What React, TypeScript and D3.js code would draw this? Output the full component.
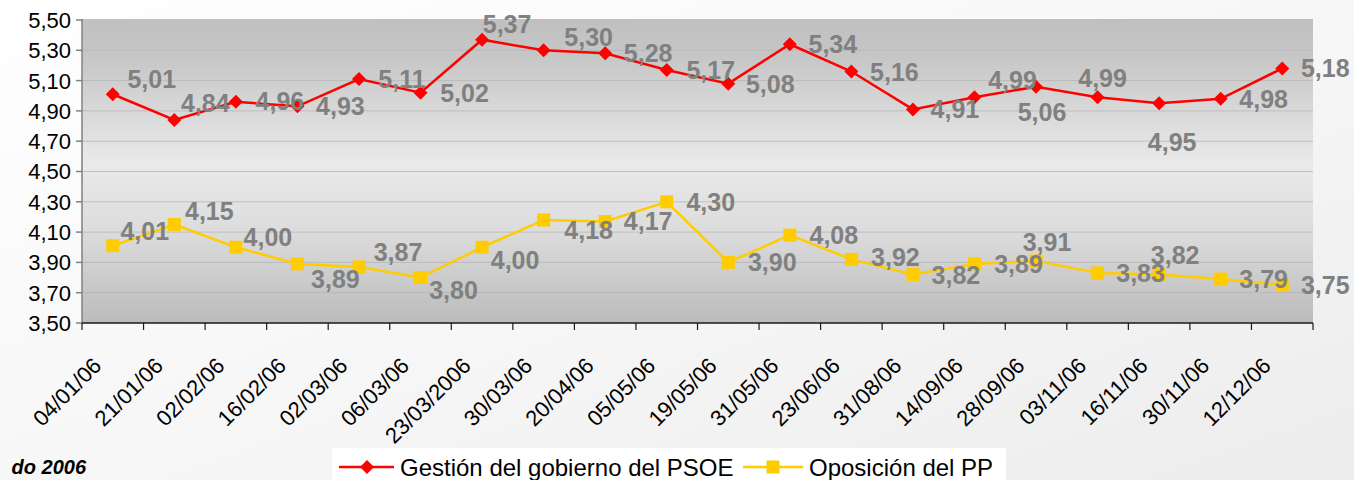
import React from "react";
import * as d3 from "d3";

const categories = [
  "04/01/06", "21/01/06", "02/02/06", "16/02/06", "02/03/06", "06/03/06", "23/03/2006",
  "30/03/06", "20/04/06", "05/05/06", "19/05/06", "31/05/06", "23/06/06", "31/08/06",
  "14/09/06", "28/09/06", "03/11/06", "16/11/06", "30/11/06", "12/12/06",
];
const psoeValues = [5.01, 4.84, 4.96, 4.93, 5.11, 5.02, 5.37, 5.30, 5.28, 5.17, 5.08, 5.34, 5.16, 4.91, 4.99, 5.06, 4.99, 4.95, 4.98, 5.18];
const ppValues = [4.01, 4.15, 4.00, 3.89, 3.87, 3.80, 4.00, 4.18, 4.17, 4.30, 3.90, 4.08, 3.92, 3.82, 3.89, 3.91, 3.83, 3.82, 3.79, 3.75];
const yTicks = [3.5, 3.7, 3.9, 4.1, 4.3, 4.5, 4.7, 4.9, 5.1, 5.3, 5.5];
const seriesNames = ["Gestión del gobierno del PSOE", "Oposición del PP"];

// layout: data-label offsets (pixels) relative to each point
const psoeLabelOffsets: [number, number][] = [
  [39, -15], [31, -17], [44, -1], [43, 0], [43, 0], [44, 0], [25, -16], [45, -13], [43, 0], [44, 0],
  [42, 0], [43, 0], [43, 0], [42, 0], [38, -17], [6, 25], [5, -19], [13, 39], [43, 0], [43, 0],
];
const ppLabelOffsets: [number, number][] = [
  [32, -15], [35, -14], [32, -10], [38, 15], [39, -15], [33, 12], [33, 13], [45, 10], [43, 0], [44, 0],
  [44, 0], [44, 0], [44, -2], [43, 0], [44, 0], [11, -19], [43, 0], [16, -20], [43, 0], [43, 0],
];

const W = 1354;
const H = 480;
const left = 82;
const right = 1313;
const top = 20;
const bottom = 323;
const RED = "#ff0000";
const YEL = "#ffcc00";
const FONT = "'Liberation Sans', Arial, sans-serif";

const fmt = (v: number) => d3.format(".2f")(v).replace(".", ",");

export default function App() {
  const x = d3.scaleBand<string>().domain(categories).range([left, right]).padding(0);
  const y = d3.scaleLinear().domain([3.5, 5.5]).range([bottom, top]);
  const cx = (i: number) => (x(categories[i]) as number) + x.bandwidth() / 2;
  const line = d3
    .line<number>()
    .x((_, i) => cx(i))
    .y((v) => y(v));
  const diamond = (px: number, py: number, r: number) =>
    `M${px},${py - r}L${px + r},${py}L${px},${py + r}L${px - r},${py}Z`;

  return (
    <svg
      width={W}
      height={H}
      style={{ position: "absolute", left: 0, top: 0, display: "block" }}
      fontFamily={FONT}
    >
      <defs>
        <linearGradient id="pageBg" x1="0" y1="0" x2="1" y2="1">
          <stop offset="0%" stopColor="#ffffff" />
          <stop offset="55%" stopColor="#f6f6f6" />
          <stop offset="100%" stopColor="#ececec" />
        </linearGradient>
        <linearGradient id="plotBg" x1="0" y1="0" x2="0" y2="1">
          <stop offset="0%" stopColor="#c0c0c0" />
          <stop offset="12%" stopColor="#c6c6c6" />
          <stop offset="48%" stopColor="#eaeaea" />
          <stop offset="70%" stopColor="#dcdcdc" />
          <stop offset="100%" stopColor="#bbbbbb" />
        </linearGradient>
      </defs>
      <rect x={0} y={0} width={W} height={H} fill="url(#pageBg)" />
      <rect x={left} y={top - 1} width={right - left} height={bottom - top + 1} fill="url(#plotBg)" />

      {/* gridlines */}
      {yTicks.slice(1, -1).map((t) => (
        <line key={"g" + t} x1={left} x2={right} y1={y(t)} y2={y(t)} stroke="#b4b4b4" strokeWidth={1} opacity={0.75} />
      ))}

      {/* y axis */}
      <line x1={left} x2={left} y1={top - 1} y2={bottom} stroke="#808080" strokeWidth={1.5} />
      {yTicks.map((t) => (
        <g key={"yt" + t}>
          <line x1={left - 6} x2={left} y1={y(t)} y2={y(t)} stroke="#808080" strokeWidth={1.5} />
          <text x={left - 11} y={y(t)} dy="0.36em" textAnchor="end" fontSize={22} fill="#000">
            {fmt(t)}
          </text>
        </g>
      ))}

      {/* x axis */}
      <line x1={left} x2={right} y1={bottom} y2={bottom} stroke="#1a1a1a" strokeWidth={1.5} />
      {categories.map((c) => (
        <line
          key={"xt" + c}
          x1={x(c) as number}
          x2={x(c) as number}
          y1={bottom}
          y2={bottom + 7}
          stroke="#1a1a1a"
          strokeWidth={1.2}
        />
      ))}
      <line x1={right} x2={right} y1={bottom} y2={bottom + 7} stroke="#1a1a1a" strokeWidth={1.2} />
      {categories.map((c, i) => (
        <text
          key={"xl" + c}
          transform={`translate(${cx(i) - 10},${367}) rotate(-45)`}
          textAnchor="end"
          fontSize={22}
          fill="#000"
        >
          {c}
        </text>
      ))}

      {/* series */}
      <path d={line(ppValues) || ""} fill="none" stroke={YEL} strokeWidth={2.5} />
      {ppValues.map((v, i) => (
        <rect key={"pm" + i} x={cx(i) - 6.5} y={y(v) - 6.5} width={13} height={13} fill={YEL} />
      ))}
      <path d={line(psoeValues) || ""} fill="none" stroke={RED} strokeWidth={2.5} />
      {psoeValues.map((v, i) => (
        <path key={"sm" + i} d={diamond(cx(i), y(v), 7)} fill={RED} />
      ))}

      {/* data labels */}
      {psoeValues.map((v, i) => (
        <text
          key={"sl" + i}
          x={cx(i) + psoeLabelOffsets[i][0]}
          y={y(v) + psoeLabelOffsets[i][1]}
          dy="0.36em"
          textAnchor="middle"
          fontSize={25}
          fontWeight="bold"
          fill="#808080"
        >
          {fmt(v)}
        </text>
      ))}
      {ppValues.map((v, i) => (
        <text
          key={"pl" + i}
          x={cx(i) + ppLabelOffsets[i][0]}
          y={y(v) + ppLabelOffsets[i][1]}
          dy="0.36em"
          textAnchor="middle"
          fontSize={25}
          fontWeight="bold"
          fill="#808080"
        >
          {fmt(v)}
        </text>
      ))}

      {/* legend */}
      <rect x={332} y={448} width={674} height={40} fill="#ffffff" />
      <line x1={339} x2={394} y1={467} y2={467} stroke={RED} strokeWidth={2.5} />
      <path d={diamond(367, 467, 7)} fill={RED} />
      <text x={400} y={476} fontSize={24} fill="#000">
        {seriesNames[0]}
      </text>
      <line x1={743} x2={803} y1={467} y2={467} stroke={YEL} strokeWidth={2.5} />
      <rect x={766.5} y={460.5} width={13} height={13} fill={YEL} />
      <text x={809} y={476} fontSize={24} fill="#000">
        {seriesNames[1]}
      </text>

      {/* title fragment at the lower-left edge */}
      <text x={86} y={474} textAnchor="end" fontSize={20} fontWeight="bold" fontStyle="italic" fill="#000">
        do 2006
      </text>
    </svg>
  );
}
